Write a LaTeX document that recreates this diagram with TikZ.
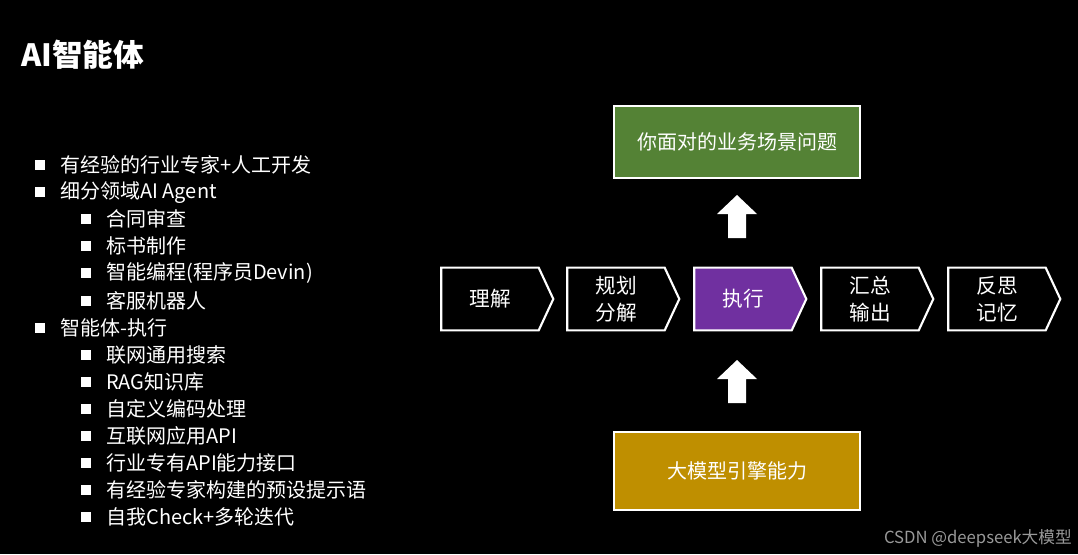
\documentclass[tikz,border=0pt]{standalone}
\usepackage{fontspec}
\setmainfont{Noto Sans CJK SC}
\usetikzlibrary{shapes.symbols}
\definecolor{grn}{HTML}{548235}
\definecolor{gold}{HTML}{BF8F00}
\definecolor{purp}{HTML}{7030A0}
\begin{document}
\begin{tikzpicture}[x=0.75pt,y=-0.75pt,
  chev/.style={shape=signal,signal to=east,signal pointer angle=130,draw=white,line width=1.6pt,fill=black,minimum width=84pt,minimum height=47pt,inner sep=0pt,text=white,font=\fontsize{15.5}{17}\selectfont,align=center},
  box/.style={draw=white,line width=1.6pt,minimum width=184pt,minimum height=54pt,text=white,font=\fontsize{15}{17}\selectfont},
  it/.style={anchor=west,text=white,font=\fontsize{15}{16}\selectfont,inner sep=0pt},
  bul/.style={fill=white,minimum size=7.5pt,inner sep=0pt}]
\fill[black] (0,0) rectangle (1078,554);
\useasboundingbox (0,0) rectangle (1078,554);
\node[anchor=west,text=white,font=\fontsize{23}{25}\selectfont\bfseries,inner sep=0pt] (title) at (21,55) {AI智能体};
\foreach \i/\lv/\t in {0/0/有经验的行业专家+人工开发,1/0/细分领域AI Agent,2/1/合同审查,3/1/标书制作,4/1/智能编程(程序员Devin),5/1/客服机器人,6/0/智能体-执行,7/1/联网通用搜索,8/1/RAG知识库,9/1/自定义编码处理,10/1/互联网应用API,11/1/行业专有API能力接口,12/1/有经验专家构建的预设提示语,13/1/自我Check+多轮迭代}{
  \pgfmathsetmacro{\yy}{165+27.1*\i}
  \pgfmathsetmacro{\xb}{40+46*\lv}
  \node[bul] (b\i) at (\xb,\yy) {};
  \node[it] (t\i) at (\xb+20,\yy) {\t};
}
\node[box,fill=grn] (top) at (737,142) {你面对的业务场景问题};
\node[box,fill=gold,minimum height=58pt] (bot) at (737,471) {大模型引擎能力};
\node[chev] (c1) at (490,299) {理解};
\node[chev] (c2) at (616,299) {规划\\[3pt]分解};
\node[chev,fill=purp] (c3) at (743,299) {执行};
\node[chev] (c4) at (870,299) {汇总\\[3pt]输出};
\node[chev] (c5) at (997,299) {反思\\[3pt]记忆};
\foreach \n/\y in {a1/195,a2/360}{
  \fill[white] (737,\y) -- (757,\y+19) -- (746,\y+19) -- (746,\y+43) -- (728,\y+43) -- (728,\y+19) -- (717,\y+19) -- cycle;
}
\node[anchor=east,text=gray!80,font=\fontsize{12.5}{14}\selectfont,inner sep=0pt] (wm) at (1072,538) {CSDN @deepseek大模型};
\end{tikzpicture}
\end{document}
